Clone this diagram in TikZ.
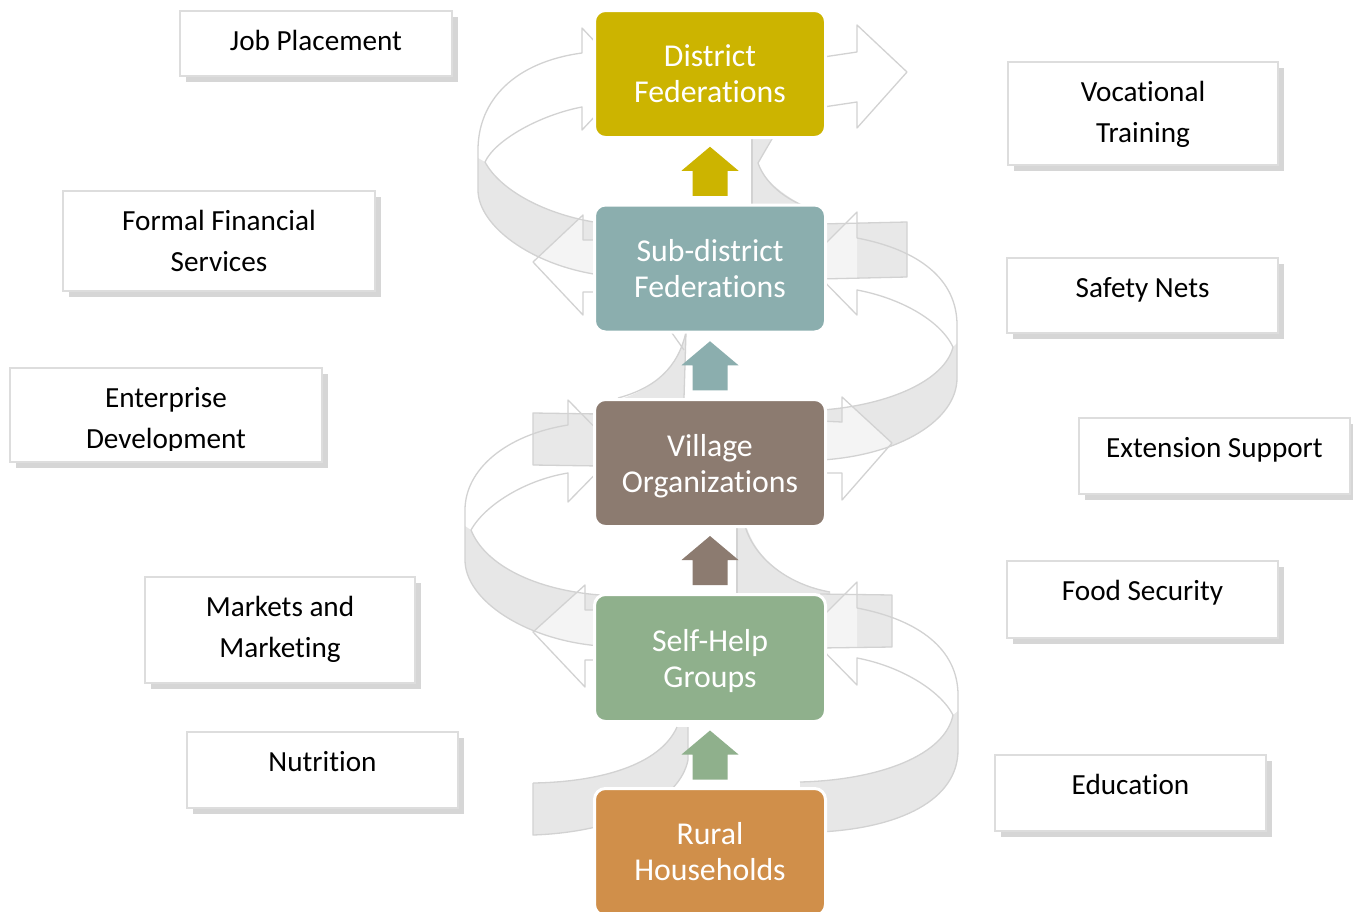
\documentclass[tikz,border=0pt]{standalone}
\usepackage{fontspec}
\setmainfont{Carlito}[Ligatures=NoCommon]
\usetikzlibrary{calc,shadows}
\definecolor{cDist}{RGB}{204,180,0}
\definecolor{cSub}{RGB}{139,174,174}
\definecolor{cVil}{RGB}{140,123,112}
\definecolor{cShg}{RGB}{143,176,140}
\definecolor{cRur}{RGB}{208,143,74}
\definecolor{rbLine}{RGB}{210,210,210}
\definecolor{rbBack}{RGB}{231,231,231}
\definecolor{rbTail}{RGB}{232,232,232}
\definecolor{sbLine}{RGB}{221,221,221}
\definecolor{sbShadow}{RGB}{214,214,214}
\tikzset{
 rline/.style={draw=rbLine, line width=1.3pt, line join=round},
 rback/.style={fill=rbBack},
 rtail/.style={fill=rbTail},
 rhead/.style={fill=white, fill opacity=0.55},
 cbox/.style={draw=white, line width=3pt, rounded corners=11pt, minimum width=231pt, minimum height=127pt,
   inner sep=0pt, outer sep=0pt, text=white, font=\fontsize{31.8}{36}\selectfont, align=center},
 sbox/.style={draw=sbLine, line width=2pt, fill=white, inner sep=0pt, outer sep=0pt,
   drop shadow={shadow xshift=6pt, shadow yshift=-6pt, fill=sbShadow, opacity=1}},
 stext/.style={font=\fontsize{29.2}{41}\selectfont, align=center, inner sep=0pt, anchor=north, text=black},
}
\newcommand{\myUpArrow}[3]{%
  \fill[#3] ($(#1.north)!0.5!(#2.south)$) ++(0,-24.5) -- ++(28.5,24) -- ++(-11,0) -- ++(0,25)
    -- ++(-35,0) -- ++(0,-25) -- ++(-11,0) -- cycle;}
\newcommand{\nodepth}[1]{\raisebox{0pt}[\height][0pt]{#1}}
\begin{document}
\begin{tikzpicture}[x=1pt,y=-1pt]
\useasboundingbox (0,0) rectangle (1353,911);
\clip (0,0) rectangle (1353,911);
\fill[white] (0,0) rectangle (1353,911);

% ---------- back fills of the ribbons ----------
\fill[rback] (485,162) .. controls (500,190) and (545,215) .. (600,223) -- (600,275)
  .. controls (530,265) and (478,225) .. (478,190) -- (478,158) -- cycle;
\fill[rback] (471,530) .. controls (485,565) and (535,590) .. (600,595) -- (600,646)
  .. controls (525,640) and (465,600) .. (465,560) -- (465,526) -- cycle;
\fill[rback] (953,347) .. controls (945,380) and (890,405) .. (822,410) -- (822,460)
  .. controls (900,455) and (957,420) .. (957,378) -- (957,343) -- cycle;
\fill[rback] (953,715) .. controls (945,755) and (880,780) .. (800,782) -- (800,832) -- (820,832)
  .. controls (900,828) and (958,800) .. (958,750) -- (958,711) -- cycle;
% gap bands
\fill[rback] (752,130) -- (752,210) -- (812,210) .. controls (785,197) and (763,180) .. (758,163) -- (776,130) -- cycle;
\fill[rback] (686,332) -- (684,400) -- (618,400) .. controls (655,388) and (678,368) .. (686,332) -- cycle;
\fill[rback] (737,522) -- (737,600) -- (830,600) -- (830,592) .. controls (790,585) and (755,560) .. (745,522) -- cycle;
\fill[rback] (533,783) .. controls (600,782) and (660,765) .. (677,727) -- (688,727) -- (688,760)
  .. controls (680,800) and (620,832) .. (533,835) -- cycle;
% tails
\fill[rtail] (820,224) -- (907,222) -- (907,277) -- (820,279) -- cycle;
\fill[rtail] (533,413) -- (600,414) -- (600,466) -- (533,465) -- cycle;
\fill[rtail] (820,594) -- (892,595) -- (892,647) -- (820,648) -- cycle;
% heads
\fill[white] (810,59) -- (857,52) -- (857,25) -- (907,72) -- (857,128) -- (857,102) -- (810,109) -- cycle;
\fill[rhead] (600,240) -- (583,240) -- (583,215) -- (533,262) -- (583,315) -- (583,292) -- (600,292) -- cycle;
\fill[rhead] (820,421) -- (842,422) -- (842,397) -- (892,443) -- (842,500) -- (842,473) -- (820,473) -- cycle;
\fill[rhead] (600,610) -- (585,610) -- (585,585) -- (533,632) -- (585,687) -- (585,660) -- (600,660) -- cycle;
\fill[rhead] (857,238) -- (857,212) -- (806,263) -- (857,315) -- (857,290) -- cycle;
\fill[rhead] (857,608) -- (857,582) -- (806,633) -- (857,685) -- (857,658) -- cycle;

% ---------- outlines ----------
\draw[rline] (600,223) .. controls (545,215) and (500,190) .. (485,162) .. controls (495,140) and (540,115) .. (582,107)
  -- (582,130) -- (630,79) -- (582,28) -- (582,53) .. controls (515,62) and (478,100) .. (478,150) -- (478,190)
  .. controls (478,225) and (530,265) .. (600,275);
\draw[rline] (600,595) .. controls (535,590) and (485,565) .. (471,530) .. controls (485,505) and (525,480) .. (568,473)
  -- (568,502) -- (618,451) -- (568,400) -- (568,425) .. controls (505,435) and (465,470) .. (465,510) -- (465,560)
  .. controls (465,600) and (525,640) .. (600,646);
\draw[rline] (822,410) .. controls (890,405) and (945,380) .. (953,347) .. controls (940,320) and (900,298) .. (857,290)
  -- (857,315) -- (806,263) -- (857,212) -- (857,238) .. controls (920,250) and (957,280) .. (957,325) -- (957,378)
  .. controls (957,420) and (900,455) .. (822,460);
\draw[rline] (800,782) .. controls (880,780) and (945,755) .. (953,715) .. controls (940,690) and (900,666) .. (857,658)
  -- (857,685) -- (806,633) -- (857,582) -- (857,608) .. controls (920,620) and (958,650) .. (958,695) -- (958,750)
  .. controls (958,800) and (900,828) .. (820,832);
% straight arrows
\draw[rline] (810,59) -- (857,52) -- (857,25) -- (907,72) -- (857,128) -- (857,102) -- (810,109);
\draw[rline] (600,240) -- (583,240) -- (583,215) -- (533,262) -- (583,315) -- (583,292) -- (600,292);
\draw[rline] (820,224) -- (907,222) -- (907,277) -- (820,279);
\draw[rline] (600,414) -- (533,413) -- (533,465) -- (600,466);
\draw[rline] (820,421) -- (842,422) -- (842,397) -- (892,443) -- (842,500) -- (842,473) -- (820,473);
\draw[rline] (600,610) -- (585,610) -- (585,585) -- (533,632) -- (585,687) -- (585,660) -- (600,660);
\draw[rline] (820,594) -- (892,595) -- (892,647) -- (820,648);
% gap band outlines
\draw[rline] (752,132) -- (752,209);
\draw[rline] (776,132) -- (758,163) .. controls (765,183) and (785,200) .. (812,209);
\draw[rline] (686,332) -- (684,398);
\draw[rline] (686,332) .. controls (678,368) and (655,388) .. (618,398);
\draw[rline] (672,333) -- (684,350);
\draw[rline] (737,526) -- (737,598);
\draw[rline] (745,526) .. controls (755,560) and (790,585) .. (830,592);
\draw[rline] (533,783) .. controls (600,782) and (660,765) .. (677,727);
\draw[rline] (688,727) -- (688,760) .. controls (680,800) and (620,832) .. (533,835) -- (533,783);

% ---------- centre stack ----------
\node[cbox, fill=cDist] (dist) at (710,74) {District\\Federations};
\node[cbox, fill=cSub]  (sub)  at (710,268.5) {Sub-district\\Federations};
\node[cbox, fill=cVil]  (vil)  at (710,463) {Village\\\nodepth{Organizations}};
\node[cbox, fill=cShg]  (shg)  at (710,658) {Self-Help\\\nodepth{Groups}};
\node[cbox, fill=cRur]  (rur)  at (710,852) {Rural\\Households};

\myUpArrow{sub}{dist}{cDist}
\myUpArrow{vil}{sub}{cSub}
\myUpArrow{shg}{vil}{cVil}
\myUpArrow{rur}{shg}{cShg}

% ---------- side boxes ----------
\node[sbox, minimum width=272pt, minimum height=65pt]  (bJob) at (316,43.5) {};
\node[stext] (tJob) at ($(bJob.north)+(0,19)$) {Job Placement};
\node[sbox, minimum width=312pt, minimum height=100pt] (bFin) at (219,241) {};
\node[stext] (tFin) at ($(bFin.north)+(0,19)$) {Formal Financial\\Services};
\node[sbox, minimum width=312pt, minimum height=94pt]  (bEnt) at (166,415) {};
\begin{scope}
  \clip (0,0) rectangle (1353,450);
  \node[stext] (tEnt) at ($(bEnt.north)+(0,19)$) {Enterprise\\Development};
\end{scope}
\node[sbox, minimum width=270pt, minimum height=106pt] (bMkt) at (280,630) {};
\node[stext] (tMkt) at ($(bMkt.north)+(0,19)$) {Markets and\\Marketing};
\node[sbox, minimum width=271pt, minimum height=76pt]  (bNut) at (322.5,770) {};
\node[stext] (tNut) at ($(bNut.north)+(0,19)$) {Nutrition};

\node[sbox, minimum width=270pt, minimum height=103pt] (bVoc) at (1143,113.5) {};
\node[stext] (tVoc) at ($(bVoc.north)+(0,19)$) {Vocational\\Training};
\node[sbox, minimum width=271pt, minimum height=75pt]  (bSaf) at (1142.5,295.5) {};
\node[stext] (tSaf) at ($(bSaf.north)+(0,19)$) {Safety Nets};
\node[sbox, minimum width=271pt, minimum height=76pt]  (bExt) at (1214.5,456) {};
\node[stext] (tExt) at ($(bExt.north)+(0,19)$) {Extension Support};
\node[sbox, minimum width=271pt, minimum height=77pt]  (bFood) at (1142.5,599.5) {};
\node[stext] (tFood) at ($(bFood.north)+(0,19)$) {Food Security};
\node[sbox, minimum width=271pt, minimum height=76pt]  (bEdu) at (1130.5,793) {};
\node[stext] (tEdu) at ($(bEdu.north)+(0,19)$) {Education};
\end{tikzpicture}
\end{document}
